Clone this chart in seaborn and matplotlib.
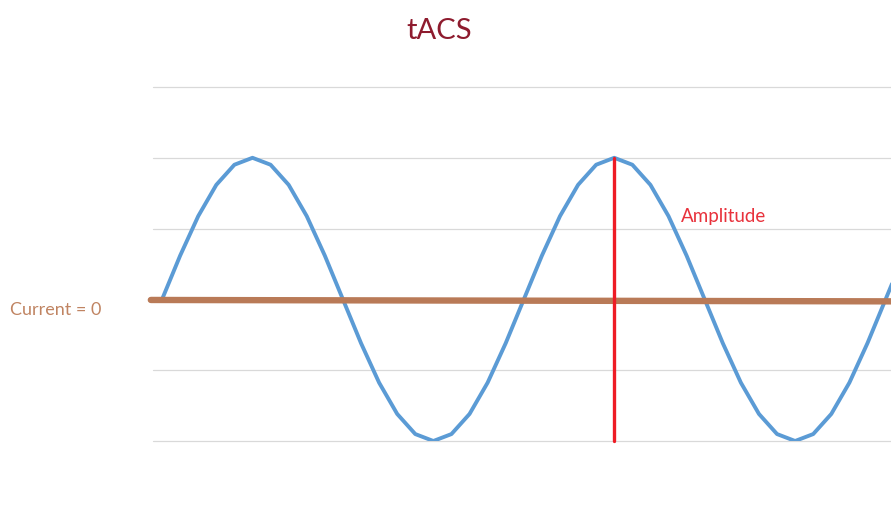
import matplotlib
matplotlib.use("Agg")
import matplotlib.pyplot as plt
import seaborn as sns
import pandas as pd

# ==============================
# Data
# ==============================
# one sample every 18 degrees, two full waves plus one step
current = [0.0, 0.309, 0.588, 0.809, 0.951, 1.0, 0.951, 0.809, 0.588, 0.309,
           0.0, -0.309, -0.588, -0.809, -0.951, -1.0, -0.951, -0.809, -0.588, -0.309,
           0.0, 0.309, 0.588, 0.809, 0.951, 1.0, 0.951, 0.809, 0.588, 0.309,
           0.0, -0.309, -0.588, -0.809, -0.951, -1.0, -0.951, -0.809, -0.588, -0.309,
           0.0, 0.309]
step = list(range(len(current)))
grid_levels = [-1.0, -0.5, 0.0, 0.5, 1.0, 1.5]

zero_x = [-0.62, 41.0]
zero_y = [-0.004, -0.014]
amp_x = [25, 25]
amp_y = [-1.0, 1.0]

df = pd.DataFrame({"step": step, "current": current})

sns.set_theme(style="white")
plt.rcParams["font.family"] = ["Lato", "DejaVu Sans"]

fig = plt.figure(figsize=(8.91, 5.10), dpi=100)
ax = fig.add_axes([153 / 891, 1 - 442 / 510, 1 - 153 / 891, (442 - 88) / 510])

# horizontal gridlines
for g in grid_levels:
    ax.axhline(g, color="#d9d9d9", lw=0.9, zorder=0, clip_on=False)

sns.lineplot(data=df, x="step", y="current", ax=ax, color="#5b9bd5", lw=2.8,
             zorder=3)

# zero-current line
ax.plot(zero_x, zero_y, color="#b97a57", lw=4.6, solid_capstyle="round",
        clip_on=False, zorder=4)

# amplitude marker
ax.plot(amp_x, amp_y, color="#ee1c25", lw=2.4, zorder=5, clip_on=False)
ax.text(28.7, 0.595, "Amplitude", color="#e8323c", fontsize=13.5, va="center",
        ha="left")

ax.set_xlim(-0.5, 40.3)
ax.set_ylim(-1.0, 1.5)
ax.set_xlabel("")
ax.set_ylabel("")
ax.set_xticks([])
ax.set_yticks([])
for s in ax.spines.values():
    s.set_visible(False)
ax.patch.set_alpha(0)

fig.text(10 / 891, 1 - 310 / 510, "Current = 0", color="#c08462", fontsize=13,
         va="center", ha="left")
fig.text(439 / 891, 1 - 31 / 510, "tACS", color="#8e1b2e", fontsize=21,
         va="center", ha="center")

fig.savefig("out.png", dpi=100)
